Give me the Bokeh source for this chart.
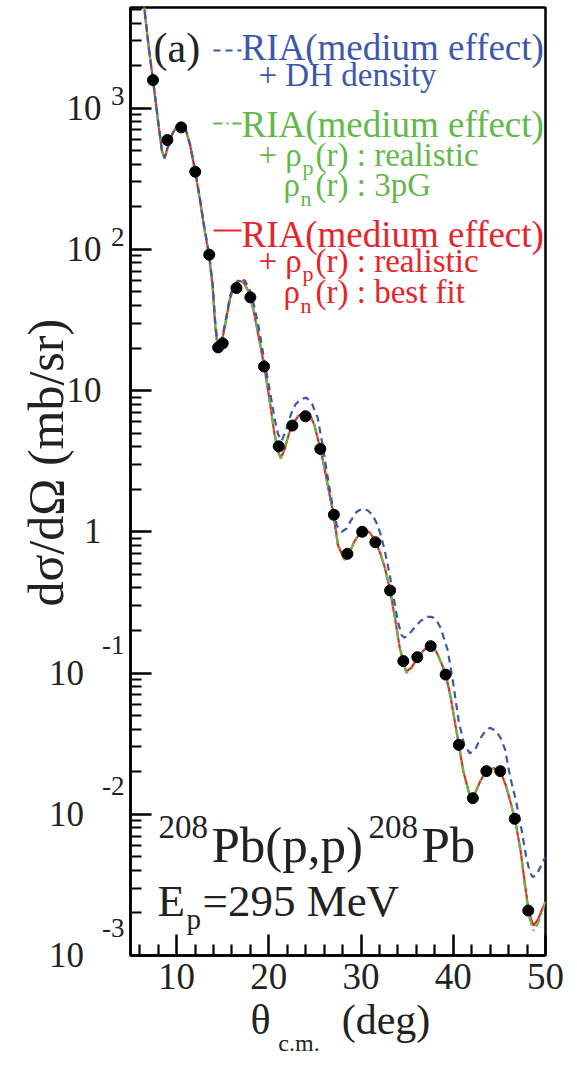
import math
from bokeh.plotting import figure
from bokeh.models import FixedTicker, Label, LogAxis, LinearAxis
from bokeh.embed import file_html
from bokeh.resources import INLINE

# ---------------- data ----------------
theta_exp = [7.44, 9.0, 10.5, 12.02, 13.54, 14.5, 15.0, 16.49, 18.0, 19.48, 21.07, 22.55,
             23.98, 25.58, 27.05, 28.52, 30.12, 31.55, 33.15, 34.58, 36.1, 37.55, 39.17,
             40.6, 42.12, 43.59, 45.1, 46.66, 48.13]
xsec_exp = [1578, 594, 730, 354, 91.6, 20.2, 21.6, 53.2, 45.7, 14.8, 4.03, 5.65,
            6.57, 3.86, 1.32, 0.698, 1.0, 0.843, 0.384, 0.1216, 0.1294, 0.155, 0.0975,
            0.031, 0.013, 0.0202, 0.0202, 0.00929, 0.00208]

theta_fit = [6.4, 7.0, 7.44, 8.0, 8.4, 8.7, 9.0, 9.5, 10.0, 10.5, 11.0, 11.5, 12.0, 12.5,
             13.0, 13.5, 13.9, 14.2, 14.5, 14.9, 15.3, 15.8, 16.3, 16.8, 17.3, 17.8, 18.3,
             18.8, 19.5, 20.0, 20.6, 21.0, 21.3, 21.7, 22.2, 22.6, 23.2, 23.9, 24.4, 24.9,
             25.6, 26.0, 26.5, 27.0, 27.5, 28.2, 28.7, 29.3, 29.9, 30.5, 31.0, 31.6, 32.1,
             32.6, 33.15, 33.7, 34.2, 34.9, 35.5, 36.1, 36.8, 37.6, 38.2, 38.7, 39.2, 39.7,
             40.2, 40.6, 41.1, 41.8, 42.3, 42.9, 43.6, 44.4, 45.1, 45.7, 46.2, 46.7, 47.3,
             47.8, 48.2, 48.7, 49.2, 49.6, 50.0]
xsec_bestfit = [5800, 2600, 1580, 800, 500, 440, 520, 650, 740, 770, 700, 530, 360, 230,
                140, 92, 55, 28, 19, 22, 30, 45, 55, 60, 58, 50, 38,
                26, 14.8, 9.3, 5.0, 3.7, 3.35, 3.8, 5.0, 5.8, 6.6, 7.1, 6.8, 5.8,
                3.86, 2.9, 1.95, 1.35, 0.8, 0.64, 0.70, 0.86, 0.98, 1.03, 0.98, 0.84, 0.70,
                0.55, 0.384, 0.24, 0.15, 0.102, 0.110, 0.128, 0.145, 0.158, 0.140, 0.118, 0.097, 0.068,
                0.044, 0.031, 0.020, 0.0135, 0.0138, 0.0170, 0.0205, 0.0212, 0.0202, 0.0160, 0.0122, 0.0092, 0.0055,
                0.0031, 0.0020, 0.00163, 0.00180, 0.0021, 0.0024]
xsec_3pg = [5800, 2600, 1580, 800, 500, 440, 515, 650, 742, 770, 702, 532, 362, 232,
            141, 92, 56, 28.5, 19.2, 22, 30, 45.5, 55.5, 60.5, 58, 50, 38.5,
            26.5, 15, 9.4, 5.0, 3.7, 3.3, 3.8, 5.1, 5.9, 6.7, 7.1, 6.8, 5.8,
            3.9, 2.9, 1.95, 1.35, 0.8, 0.63, 0.70, 0.86, 0.98, 1.03, 0.98, 0.85, 0.70,
            0.55, 0.39, 0.24, 0.15, 0.100, 0.108, 0.127, 0.145, 0.158, 0.141, 0.119, 0.098, 0.069,
            0.044, 0.031, 0.020, 0.0133, 0.0137, 0.0170, 0.0205, 0.0212, 0.0202, 0.0161, 0.0122, 0.0092, 0.0054,
            0.0030, 0.0019, 0.00150, 0.00170, 0.0020, 0.0024]

theta_dh = [6.4, 7.0, 7.44, 8.0, 8.4, 8.7, 9.0, 9.5, 10.0, 10.5, 11.0, 11.5, 12.0, 12.5,
            13.0, 13.5, 13.9, 14.2, 14.5, 14.9, 15.3, 15.8, 16.3, 16.9, 17.4, 17.9, 18.4,
            18.9, 19.5, 20.1, 20.7, 21.0, 21.4, 21.9, 22.4, 22.9, 23.5, 24.1, 24.7, 25.3,
            25.8, 26.4, 27.0, 27.4, 27.9, 28.4, 28.9, 29.5, 30.1, 30.7, 31.2, 31.7, 32.1,
            32.6, 33.1, 33.5, 34.0, 34.4, 34.7, 35.2, 35.8, 36.5, 37.2, 37.7, 38.2, 38.6,
            39.0, 39.4, 40.0, 40.6, 41.2, 41.8, 42.4, 43.0, 43.5, 44.0, 44.6, 45.1, 45.6,
            46.2, 46.8, 47.4, 47.9, 48.3, 48.6, 49.0, 49.5, 50.0]
xsec_dh = [5800, 2600, 1580, 800, 500, 445, 515, 650, 745, 775, 710, 540, 365, 235,
           145, 95, 58, 30, 20, 23, 31, 47, 57, 62, 60, 52, 40,
           28, 16.5, 10, 6.0, 4.9, 4.4, 5.3, 6.8, 8.0, 8.7, 8.9, 8.0, 6.4,
           4.2, 2.4, 1.4, 1.1, 1.0, 1.05, 1.2, 1.38, 1.46, 1.42, 1.33, 1.15, 0.97,
           0.72, 0.5, 0.35, 0.23, 0.185, 0.178, 0.188, 0.21, 0.235, 0.25, 0.25, 0.235, 0.21,
           0.175, 0.145, 0.084, 0.045, 0.031, 0.027, 0.029, 0.035, 0.039, 0.041, 0.039, 0.035, 0.029,
           0.018, 0.0125, 0.0078, 0.0050, 0.0039, 0.0036, 0.0037, 0.0043, 0.0050]

x_ticks = [10, 20, 30, 40, 50]
x_minor = [6, 8, 12, 14, 16, 18, 22, 24, 26, 28, 32, 34, 36, 38, 42, 44, 46, 48]
y_exponents = [-3, -2, -1, 0, 1, 2, 3]

# ---------------- colours / fonts ----------------
BLUE = "#3d58aa"
GREEN = "#62b84a"
RED = "#e5242b"
INK = "#222222"
SERIF = "Liberation Serif"
NBSP = "\u00a0"

# frame geometry in pixels (layout)
W, H = 577, 1067
L, R, T, B = 130, 545, 7, 955
XMIN, XMAX = 5, 50
LOG_TOP = 3.712
LOG_BOT = -3.0
DEC = (B - T) / (LOG_TOP - LOG_BOT)   # pixels per decade


def dx(px):
    return XMIN + (px - L) * (XMAX - XMIN) / (R - L)


def dy(py):
    return 10 ** (LOG_TOP - (py - T) / DEC)


p = figure(width=W, height=H, y_axis_type="log", x_range=(XMIN, XMAX),
           y_range=(10 ** LOG_BOT, 10 ** LOG_TOP),
           output_backend="svg", toolbar_location=None,
           min_border_left=L, min_border_right=W - R, min_border_top=T, min_border_bottom=H - B)
p.background_fill_color = "white"
p.border_fill_color = "white"
p.grid.visible = False
p.outline_line_color = "black"
p.outline_line_width = 2.5

# main axes: inward ticks only
for ax in (p.xaxis[0], p.yaxis[0]):
    ax.axis_line_width = 2.5
    ax.axis_line_color = "black"
    ax.major_tick_in = 21
    ax.major_tick_out = 0
    ax.minor_tick_in = 11
    ax.minor_tick_out = 0
    ax.major_tick_line_width = 2.5
    ax.minor_tick_line_width = 2.2
    ax.major_tick_line_color = "black"
    ax.minor_tick_line_color = "black"

p.xaxis[0].ticker = FixedTicker(ticks=x_ticks, minor_ticks=x_minor)
p.xaxis[0].major_label_text_font = SERIF
p.xaxis[0].major_label_text_font_size = "37px"
p.xaxis[0].major_label_text_color = INK
p.xaxis[0].major_label_standoff = 8

y_major = [10.0 ** e for e in y_exponents]
y_minor = [k * 10.0 ** e for e in y_exponents for k in range(2, 10)]
p.yaxis[0].ticker = FixedTicker(ticks=y_major, minor_ticks=y_minor)
p.yaxis[0].major_label_overrides = {v: "" for v in y_major}
p.yaxis[0].major_label_standoff = 0


def bare(ax):
    ax.axis_line_color = None
    ax.major_tick_line_color = None
    ax.minor_tick_line_color = None
    ax.major_tick_in = 0
    ax.major_tick_out = 0
    ax.minor_tick_in = 0
    ax.minor_tick_out = 0
    ax.major_label_text_font = SERIF
    ax.major_label_text_color = INK
    return ax


# exponent labels (placed a little above their decade tick, as in the original)
exp_pos = {}
for e in y_exponents:
    if e in (0, 1):
        continue
    shift_px = 12 if e > 0 else 28
    exp_pos[10 ** (e + shift_px / DEC)] = str(e)
ax_exp = bare(LogAxis(ticker=FixedTicker(ticks=list(exp_pos.keys()), minor_ticks=[])))
ax_exp.major_label_overrides = exp_pos
ax_exp.major_label_text_font_size = "27px"
ax_exp.major_label_standoff = 6
p.add_layout(ax_exp, "left")

# mantissa labels "10" / "1"
base_labels = {}
for e, v in zip(y_exponents, y_major):
    if e == 0:
        base_labels[v] = "1"
    elif e < 0:
        base_labels[v] = "10" + NBSP * 2
    else:
        base_labels[v] = "10"
ax_base = bare(LogAxis(ticker=FixedTicker(ticks=y_major, minor_ticks=[])))
ax_base.major_label_overrides = base_labels
ax_base.major_label_text_font_size = "35px"
ax_base.major_label_standoff = -2
ax_base.axis_label = NBSP * 3 + "dσ/dΩ (mb/sr)"
ax_base.axis_label_text_font = SERIF
ax_base.axis_label_text_font_style = "normal"
ax_base.axis_label_text_font_size = "50px"
ax_base.axis_label_text_color = INK
ax_base.axis_label_standoff = -28
p.add_layout(ax_base, "left")

# x title: "θ" and "(deg)" as labels of a bare axis, "c.m." as its subscript-like axis label
xt = {dx(260): "θ", dx(385.5): "(deg)"}
ax_title = bare(LinearAxis(ticker=FixedTicker(ticks=list(xt.keys()), minor_ticks=[])))
ax_title.major_label_overrides = xt
ax_title.major_label_text_font_size = "42px"
ax_title.major_label_standoff = 5
ax_title.axis_label = "c.m." + NBSP * 13
ax_title.axis_label_text_font = SERIF
ax_title.axis_label_text_font_style = "normal"
ax_title.axis_label_text_font_size = "24px"
ax_title.axis_label_text_color = INK
ax_title.axis_label_standoff = -16
p.add_layout(ax_title, "below")

# curves: best fit (red, solid), 3pG (green, dash-dot), DH density (blue, dashed)
p.line(theta_fit, xsec_bestfit, line_color=RED, line_width=2.2)
p.line(theta_fit, xsec_3pg, line_color=GREEN, line_width=2.2, line_dash="9 4 2 4")
p.line(theta_dh, xsec_dh, line_color=BLUE, line_width=2.2, line_dash="7 5")

# experimental points
p.scatter(theta_exp, xsec_exp, size=11, color="black")


def lab(text, px, py, size, color=INK):
    # py is the wanted baseline (pixels from top); Bokeh places alphabetic text ~0.35em lower
    p.add_layout(Label(x=dx(px), y=dy(py - 0.35 * size), text=text, text_font=SERIF,
                       text_font_size=f"{size}px", text_color=color, text_align="left",
                       text_baseline="alphabetic"))


# panel label and legend
lab("(a)", 153, 62, 42)
p.line([dx(213), dx(241)], [dy(50), dy(50)], line_color=BLUE, line_width=2.2, line_dash="7 5")
lab("RIA(medium effect)", 241, 60, 37, color=BLUE)
lab("+ DH density", 258, 86, 33, color=BLUE)

p.line([dx(213), dx(241)], [dy(123), dy(123)], line_color=GREEN, line_width=2.2, line_dash="9 4 2 4")
lab("RIA(medium effect)", 241, 137, 37, color=GREEN)
lab("+ ρ", 258, 166, 33, color=GREEN)
lab("p", 302, 175, 22, color=GREEN)
lab("(r) : realistic", 315, 166, 33, color=GREEN)
lab("ρ", 283, 196, 33, color=GREEN)
lab("n", 300, 206, 22, color=GREEN)
lab("(r) : 3pG", 315, 196, 33, color=GREEN)

p.line([dx(213), dx(241)], [dy(230), dy(230)], line_color=RED, line_width=2.2)
lab("RIA(medium effect)", 241, 247, 37, color=RED)
lab("+ ρ", 258, 272, 33, color=RED)
lab("p", 302, 281, 22, color=RED)
lab("(r) : realistic", 315, 272, 33, color=RED)
lab("ρ", 283, 303, 33, color=RED)
lab("n", 300, 313, 22, color=RED)
lab("(r) : best fit", 315, 303, 33, color=RED)

# reaction annotation
lab("208", 158, 838, 33)
lab("Pb(p,p)", 211, 862, 51)
lab("208", 368, 838, 33)
lab("Pb", 421, 862, 51)
lab("E", 157, 916, 45)
lab("p", 186, 929, 29)
lab("=295 MeV", 202, 916, 45)

open("out.html", "w").write(file_html(p, INLINE))
